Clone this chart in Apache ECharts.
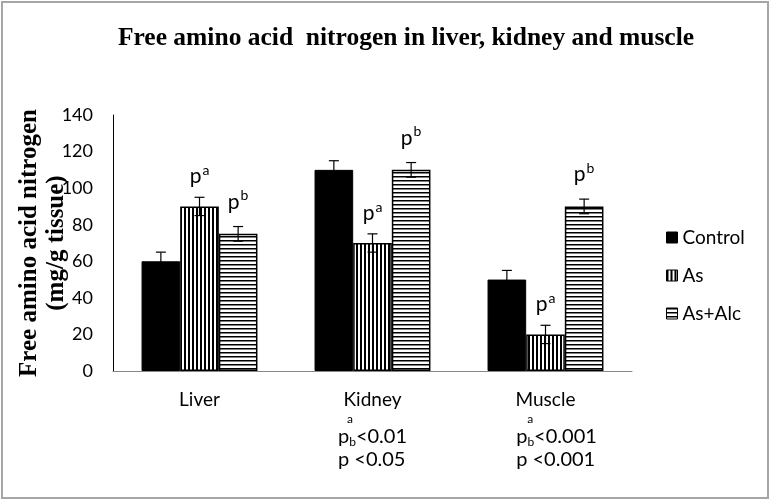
<!DOCTYPE html>
<html>
<head>
<meta charset="utf-8">
<script src="https://cdn.jsdelivr.net/npm/echarts@6/dist/echarts.min.js"></script>
<style>
html,body{margin:0;padding:0;background:#fff;}
#c{position:absolute;left:0;top:0;width:770px;height:500px;}
#frame{position:absolute;left:1px;top:1px;width:768px;height:498px;box-sizing:border-box;border:2px solid #a6a6a6;pointer-events:none;}
</style>
</head>
<body>
<div id="c"></div>
<div id="frame"></div>
<script>
// ---- data ----
const categories = ['Liver', 'Kidney', 'Muscle'];
const seriesNames = ['Control', 'As', 'As+Alc'];
const controlValues = [60, 110, 50];
const asValues = [90, 70, 20];
const alcValues = [75, 110, 90];
const controlErr = [5, 5, 5];
const asErr = [5, 5, 5];
const alcErr = [4, 4, 4];
const asMarks = ['a', 'a', 'a'];
const alcMarks = ['b', 'b', 'b'];
// p-value notes under categories: [p^a, p^b]
const pNotesA = ['', '<0.01', '<0.001'];
const pNotesB = ['', '<0.05', '<0.001'];
const yTicks = [0, 20, 40, 60, 80, 100, 120, 140];

// ---- patterns ----
function makePattern(vertical) {
  const cv = document.createElement('canvas');
  cv.width = 4; cv.height = 4;
  const ctx = cv.getContext('2d');
  ctx.fillStyle = '#fff';
  ctx.fillRect(0, 0, 4, 4);
  ctx.fillStyle = '#000';
  if (vertical) ctx.fillRect(0, 0, 2, 4);
  else ctx.fillRect(0, 0, 4, 1.5);
  return { image: cv, repeat: 'repeat' };
}
const vPattern = makePattern(true);
const hPattern = makePattern(false);

const sans = 'Lato';
const serif = 'Liberation Serif';

const errData = [];
[[controlValues, controlErr], [asValues, asErr], [alcValues, alcErr]].forEach((pair, si) => {
  pair[0].forEach((v, ci) => errData.push([ci, v - pair[1][ci], v + pair[1][ci], si]));
});

const barGapRatio = 0.33;

function catLabel(value, idx) {
  let s = '{cat|' + value + '}';
  if (pNotesA[idx]) {
    const sp = idx === 2 ? '{sp|}' : '';
    const sa = idx === 2 ? 'saM' : 'saK';
    s += '\n' + sp + '{' + sa + '|a}' + '\n' + sp + '{pv|p}{sb|b}{pv|' + pNotesA[idx] + '}' +
         '\n' + sp + '{pv2|p ' + pNotesB[idx] + '}';
  }
  return s;
}

const barLabelRich = {
  p: { fontFamily: sans, fontSize: 21, lineHeight: 26, color: '#000' },
  s: { fontFamily: sans, fontSize: 14, lineHeight: 26, verticalAlign: 'top', color: '#000', padding: [0, 0, 0, 1] }
};

const chart = echarts.init(document.getElementById('c'), null, { renderer: 'canvas' });
chart.setOption({
  animation: false,
  backgroundColor: '#fff',
  title: {
    text: 'Free amino acid  nitrogen in liver, kidney and muscle',
    left: 401, top: 20, textAlign: 'center',
    textStyle: { fontFamily: serif, fontWeight: 'bold', fontSize: 25.5, color: '#000' }
  },
  legend: {
    data: seriesNames,
    orient: 'vertical',
    left: 661, top: 222,
    itemWidth: 11, itemHeight: 11, itemGap: 17,
    itemStyle: { borderWidth: 1 },
    icon: 'rect',
    textStyle: { fontFamily: sans, fontSize: 19, lineHeight: 21, color: '#000' }
  },
  grid: { left: 113, right: 138, top: 115, bottom: 129, containLabel: false, outerBoundsMode: 'none' },
  xAxis: {
    type: 'category',
    data: categories,
    axisTick: { show: false },
    axisLine: { lineStyle: { color: '#868686', width: 1 } },
    axisLabel: {
      margin: 17,
      interval: 0,
      hideOverlap: false,
      formatter: catLabel,
      rich: {
        cat: { fontFamily: sans, fontSize: 19, lineHeight: 24, color: '#000' },
        saK: { fontFamily: sans, fontSize: 12, lineHeight: 14, color: '#000', align: 'left', padding: [0, 0, 0, 9] },
        saM: { fontFamily: sans, fontSize: 12, lineHeight: 14, color: '#000', align: 'left', padding: [0, 0, 0, 11] },
        pv: { fontFamily: sans, fontSize: 20, lineHeight: 22, color: '#000', align: 'left' },
        pv2: { fontFamily: sans, fontSize: 20, lineHeight: 24, color: '#000', align: 'left' },
        sb: { fontFamily: sans, fontSize: 12, lineHeight: 22, color: '#000', align: 'left', verticalAlign: 'bottom' },
        sp: { width: 22, align: 'left' }
      }
    }
  },
  yAxis: {
    type: 'value',
    min: 0, max: 140, interval: 20,
    name: 'Free amino acid nitrogen\n(mg/g tissue)',
    nameLocation: 'middle',
    nameGap: 43,
    nameMoveOverlap: false,
    nameTextStyle: { fontFamily: serif, fontWeight: 'bold', fontSize: 25, lineHeight: 27, color: '#000' },
    axisLine: { show: true, lineStyle: { color: '#000', width: 1 } },
    axisTick: { show: false },
    splitLine: { show: false },
    axisLabel: {
      margin: 20,
      fontFamily: sans, fontSize: 18, color: '#000',
      formatter: v => (yTicks.indexOf(v) >= 0 ? String(v) : '')
    }
  },
  series: [
    {
      name: seriesNames[0], type: 'bar', data: controlValues,
      barGap: '0%', barCategoryGap: (barGapRatio * 100) + '%',
      itemStyle: { color: '#000', borderColor: '#000', borderWidth: 1 }
    },
    {
      name: seriesNames[1], type: 'bar', data: asValues,
      barGap: '0%', barCategoryGap: (barGapRatio * 100) + '%',
      itemStyle: { color: vPattern, borderColor: '#000', borderWidth: 1.5 },
      label: {
        show: true, position: 'top', distance: 17,
        formatter: p => asMarks[p.dataIndex] ? '{p|p}{s|' + asMarks[p.dataIndex] + '}' : '',
        rich: barLabelRich
      }
    },
    {
      name: seriesNames[2], type: 'bar', data: alcValues,
      barGap: '0%', barCategoryGap: (barGapRatio * 100) + '%',
      itemStyle: { color: hPattern, borderColor: '#000', borderWidth: 1.5 },
      label: {
        show: true, position: 'top', distance: 19,
        formatter: p => alcMarks[p.dataIndex] ? '{p|p}{s|' + alcMarks[p.dataIndex] + '}' : '',
        rich: barLabelRich
      }
    },
    {
      type: 'custom',
      name: 'err',
      z: 10,
      data: errData,
      encode: { x: 0, y: [1, 2] },
      renderItem: function (params, api) {
        const ci = api.value(0), lo = api.value(1), hi = api.value(2), si = api.value(3);
        const band = api.size([1, 0])[0];
        const bw = band * (1 - barGapRatio) / 3;
        const cx = api.coord([ci, 0])[0] + (si - 1) * bw;
        const yl = api.coord([ci, lo])[1];
        const yh = api.coord([ci, hi])[1];
        const cap = 5;
        const st = { stroke: '#000', lineWidth: 1.2 };
        return {
          type: 'group',
          children: [
            { type: 'line', shape: { x1: cx, y1: yl, x2: cx, y2: yh }, style: st },
            { type: 'line', shape: { x1: cx - cap, y1: yh, x2: cx + cap, y2: yh }, style: st },
            { type: 'line', shape: { x1: cx - cap, y1: yl, x2: cx + cap, y2: yl }, style: st }
          ]
        };
      }
    }
  ]
});
</script>
</body>
</html>
